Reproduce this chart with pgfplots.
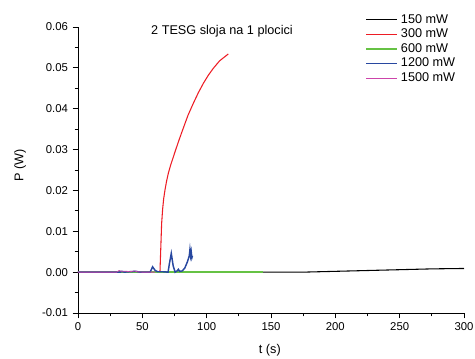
\documentclass[border=0pt]{standalone}
\usepackage{fontspec}
\setmainfont{Liberation Sans}
\usepackage{pgfplots}
\pgfplotsset{compat=1.18}
\definecolor{cred}{RGB}{237,28,36}
\definecolor{cgreen}{RGB}{102,194,68}
\definecolor{cblue}{RGB}{40,72,160}
\definecolor{cmag}{RGB}{204,68,170}
\begin{document}
\begin{tikzpicture}
\begin{axis}[
  name=ax,
  scale only axis,
  width=289.5pt, height=214.5pt,
  xmin=0, xmax=300, ymin=-0.01, ymax=0.06,
  axis lines=left,
  axis line style={-, line width=0.6pt},
  tick align=outside,
  major tick length=4pt, minor tick length=2.5pt,
  xtick={0,50,...,300}, minor x tick num=1,
  ytick={-0.01,0,0.01,0.02,0.03,0.04,0.05,0.06}, minor y tick num=1,
  every tick/.style={black, line width=0.6pt},
  /pgf/number format/assume math mode=true,
  yticklabel style={/pgf/number format/.cd, fixed, fixed zerofill, precision=2},
  ticklabel style={font=\fontsize{8.5}{10}\selectfont},
  scaled y ticks=false,
  xlabel={t (s)}, ylabel={P (W)},
  label style={font=\fontsize{9.5}{11}\selectfont},
  xlabel style={at={(rel axis cs:0.497,-0.129)}, anchor=center},
  ylabel style={at={(rel axis cs:-0.150,0.517)}, anchor=center},
  legend style={at={(rel axis cs:0.7435,1.055)}, anchor=north west, draw=none, fill=none,
    font=\fontsize{9.5}{11}\selectfont, row sep=-1.2pt, inner sep=0pt},
  legend cell align=left,
  legend image code/.code={\draw[#1] (0pt,0pt) -- (23pt,0pt);},
  clip=false,
]
\addplot[color=black, line width=0.8pt] coordinates {(0,0)(175,0)(200,0.0002)(225,0.0004)(250,0.0006)(275,0.0008)(300,0.0009)};
\addlegendentry{150 mW}
\addplot[color=cred, line width=0.8pt, line join=round] coordinates {(0,0)(63.7,0)(64.3,0.0055)(65.0,0.0119)(65.8,0.0155)(66.6,0.018)(67.6,0.0201)(68.8,0.0222)(70.2,0.0242)(72,0.0262)(74.1,0.0282)(76.2,0.0302)(78.8,0.0326)(81.9,0.0353)(85.5,0.0384)(89.6,0.0413)(93.5,0.0439)(97.4,0.0462)(101.3,0.0482)(105.2,0.0499)(110,0.0517)(116.8,0.0534)};
\addlegendentry{300 mW}
\addplot[color=cgreen, line width=1.8pt] coordinates {(0,0)(143.5,0)};
\addlegendentry{600 mW}
\addplot[color=cblue, line width=1.1pt] coordinates {(0,0)(33,0)(34,0.0002)(36,0)(40,0.0001)(45,0.0002)(48,0)(56,0)(58,0.0013)(60,0.0004)(62,0.0001)(66,0.0001)(70,0)(71,0.002)(72.5,0.0046)(74,0.0015)(75.5,0)(77,0.0003)(78,0.0007)(79,0.0002)(81,0.0003)(83,0.001)(85,0.0025)(86.5,0.004)(87,0.0055)(87.5,0.004)(88,0.005)(88.5,0.0035)(89,0.004)};
\addlegendentry{1200 mW}
\addplot[color=cmag, line width=0.6pt] coordinates {(0,0)(30,0)(32,0.0004)(34,0.0002)(38,0.0002)(40,0.0001)(44,0.0003)(46,0.0001)(50,0)(60,0)};
\addlegendentry{1500 mW}
\node[font=\fontsize{9.5}{11}\selectfont] at (rel axis cs:0.373,0.986) {2 TESG sloja na 1 plocici};
\end{axis}
\pgfresetboundingbox
\path ([shift={(-58.5pt,-33.75pt)}]ax.south west) rectangle ([shift={(297.75pt,234.75pt)}]ax.south west);
\end{tikzpicture}
\end{document}
